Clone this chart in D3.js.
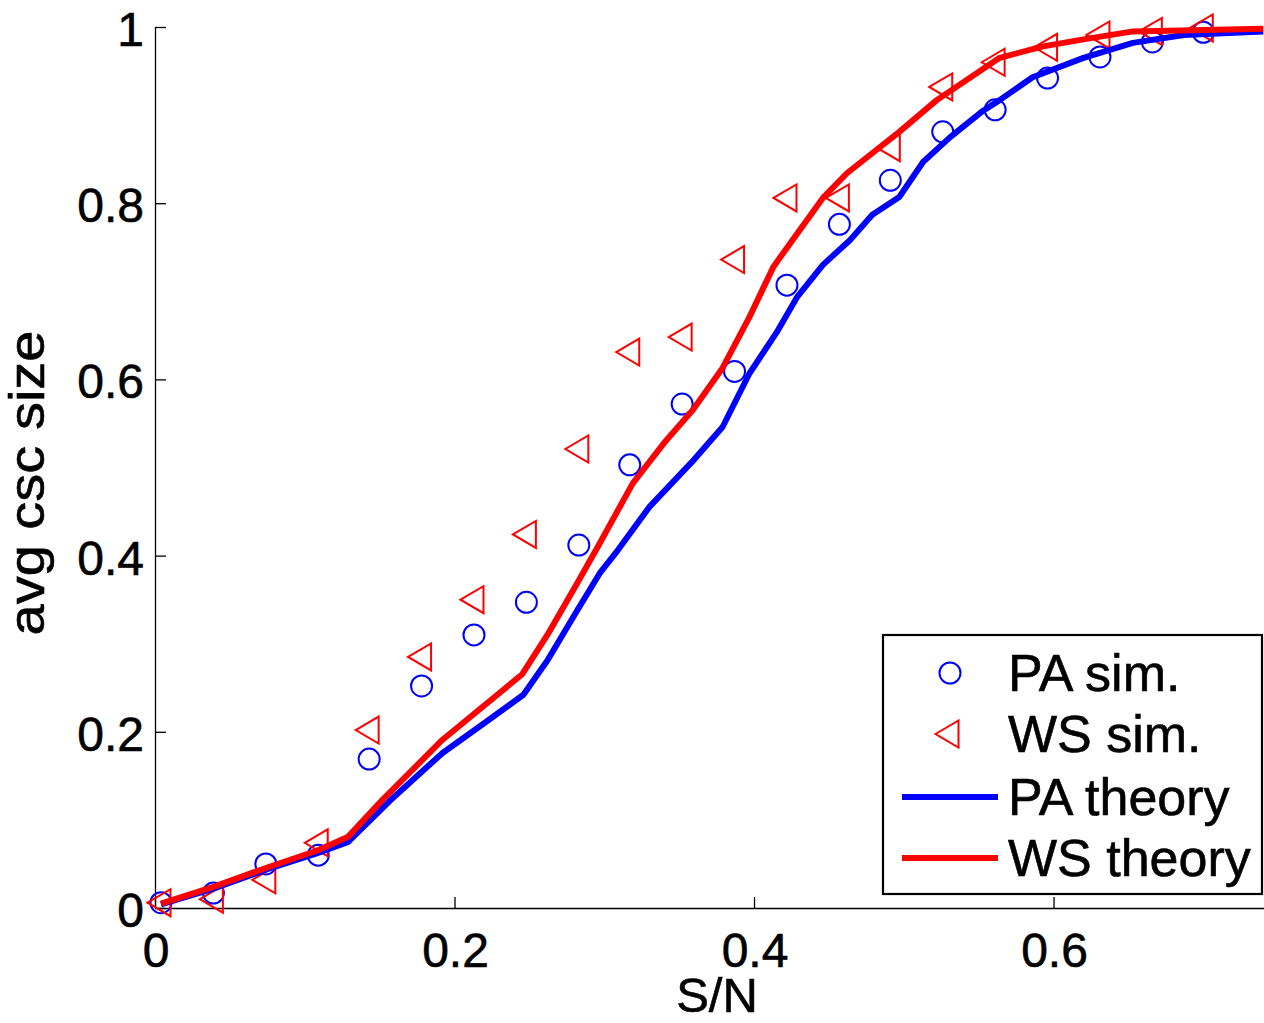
<!DOCTYPE html>
<html>
<head>
<meta charset="utf-8">
<script src="https://cdn.jsdelivr.net/npm/d3@7"></script>
<style>
  html, body { margin: 0; padding: 0; background: #fff; }
  svg { display: block; }
  text { font-family: "Liberation Sans", Arial, Helvetica, sans-serif; fill: #000; stroke: #000; stroke-width: 0.6px; }
</style>
</head>
<body>
<svg id="chart" width="1264" height="1023"></svg>
<script>
// ---- data ----
const simX  = [0.004, 0.039, 0.074, 0.109, 0.143, 0.178, 0.213, 0.248, 0.283, 0.317, 0.352,
               0.387, 0.422, 0.457, 0.491, 0.526, 0.561, 0.596, 0.631, 0.666, 0.700];
const paSim = [0.006, 0.017, 0.050, 0.060, 0.169, 0.252, 0.310, 0.347, 0.412, 0.503, 0.572,
               0.609, 0.707, 0.776, 0.826, 0.881, 0.906, 0.942, 0.966, 0.983, 0.994];
const wsSim = [0.006, 0.010, 0.032, 0.074, 0.202, 0.285, 0.350, 0.424, 0.521, 0.631, 0.648,
               0.736, 0.806, 0.806, 0.863, 0.932, 0.960, 0.977, 0.991, 0.995, 0.999];

const paTheoryX = [0.004, 0.039, 0.075, 0.108, 0.129, 0.157, 0.192, 0.220, 0.246, 0.262, 0.282,
                   0.297, 0.309, 0.330, 0.360, 0.379, 0.397, 0.415, 0.429, 0.446, 0.464, 0.479,
                   0.497, 0.513, 0.531, 0.553, 0.564, 0.586, 0.620, 0.653, 0.687, 0.740];
const paTheoryY = [0.004, 0.022, 0.044, 0.062, 0.075, 0.122, 0.176, 0.210, 0.242, 0.281, 0.338,
                   0.380, 0.406, 0.455, 0.509, 0.546, 0.607, 0.653, 0.694, 0.730, 0.758, 0.787,
                   0.807, 0.847, 0.875, 0.905, 0.917, 0.943, 0.965, 0.982, 0.991, 0.995];

const wsTheoryX = [0.004, 0.039, 0.075, 0.108, 0.129, 0.152, 0.192, 0.245, 0.262, 0.282, 0.297,
                   0.319, 0.340, 0.359, 0.379, 0.397, 0.413, 0.429, 0.446, 0.462, 0.497, 0.522,
                   0.564, 0.593, 0.620, 0.653, 0.740];
const wsTheoryY = [0.005, 0.024, 0.046, 0.065, 0.081, 0.123, 0.191, 0.265, 0.310, 0.369, 0.414,
                   0.482, 0.528, 0.565, 0.613, 0.671, 0.728, 0.766, 0.806, 0.834, 0.881, 0.917,
                   0.965, 0.978, 0.986, 0.995, 0.998];

const xTicks = [0, 0.2, 0.4, 0.6];
const yTicks = [0, 0.2, 0.4, 0.6, 0.8, 1];
const xTickLabels = ["0", "0.2", "0.4", "0.6"];
const yTickLabels = ["0", "0.2", "0.4", "0.6", "0.8", "1"];
const legendLabels = ["PA sim.", "WS sim.", "PA theory", "WS theory"];
const xLabel = "S/N";
const yLabel = "avg csc size";

// ---- layout ----
const svg = d3.select("#chart");
const plotL = 155, plotR = 1263.2, plotT = 27, plotB = 908;
const x = d3.scaleLinear().domain([0, 0.74]).range([plotL, plotR]);
const y = d3.scaleLinear().domain([0, 1]).range([plotB, plotT]);
const BLUE = "#0000ff", RED = "#ff0000";

// axes (ticks inward, MATLAB style)
const gx = svg.append("g").attr("transform", `translate(0,${plotB})`)
  .call(d3.axisTop(x).tickValues(xTicks).tickSize(11).tickFormat(""));
gx.select(".domain").attr("d", `M${plotL},0.5H1264`).attr("stroke", "#000").attr("stroke-width", 1.3);
gx.selectAll(".tick line").attr("stroke", "#000").attr("stroke-width", 1.3);

const gy = svg.append("g").attr("transform", `translate(${plotL},0)`)
  .call(d3.axisRight(y).tickValues(yTicks).tickSize(11).tickFormat(""));
gy.select(".domain").attr("d", `M0.5,${plotT}V${plotB}`).attr("stroke", "#000").attr("stroke-width", 1.3);
gy.selectAll(".tick line").attr("stroke", "#000").attr("stroke-width", 1.3);

// tick labels
svg.append("g").selectAll("text").data(xTicks).join("text")
  .attr("x", d => x(d) + 1).attr("y", 967)
  .attr("text-anchor", "middle").attr("font-size", 48)
  .text((d, i) => xTickLabels[i]);
svg.append("g").selectAll("text").data(yTicks).join("text")
  .attr("x", 144).attr("y", d => y(d) + 19)
  .attr("text-anchor", "end").attr("font-size", 48)
  .text((d, i) => yTickLabels[i]);

// axis labels
svg.append("text").attr("x", 717).attr("y", 1012).attr("text-anchor", "middle")
  .attr("font-size", 49).text(xLabel);
svg.append("text").attr("transform", `translate(44,${483}) rotate(-90)`)
  .attr("text-anchor", "middle").attr("font-size", 50)
  .attr("textLength", 305).attr("lengthAdjust", "spacingAndGlyphs").text(yLabel);

// markers
const triPath = (cx, cy) => {
  const w = 23, h = 27;
  return `M${cx - w/2},${cy}L${cx + w/2},${cy - h/2}L${cx + w/2},${cy + h/2}Z`;
};
svg.append("g").selectAll("circle").data(simX).join("circle")
  .attr("cx", d => x(d)).attr("cy", (d, i) => y(paSim[i])).attr("r", 10.5)
  .attr("fill", "none").attr("stroke", BLUE).attr("stroke-width", 2);
svg.append("g").selectAll("path").data(simX).join("path")
  .attr("d", (d, i) => triPath(x(d) - 2, y(wsSim[i])))
  .attr("fill", "none").attr("stroke", RED).attr("stroke-width", 2);

// theory lines
const line = d3.line().x(d => x(d[0])).y(d => y(d[1]));
svg.append("path").datum(paTheoryX.map((v, i) => [v, paTheoryY[i]]))
  .attr("d", line).attr("fill", "none").attr("stroke", BLUE)
  .attr("stroke-width", 6).attr("stroke-linejoin", "round");
svg.append("path").datum(wsTheoryX.map((v, i) => [v, wsTheoryY[i]]))
  .attr("d", line).attr("fill", "none").attr("stroke", RED)
  .attr("stroke-width", 6).attr("stroke-linejoin", "round");

// legend
const lg = svg.append("g");
lg.append("rect").attr("x", 883).attr("y", 635).attr("width", 379).attr("height", 259)
  .attr("fill", "#fff").attr("stroke", "#000").attr("stroke-width", 2.2);
const rowY = [673, 734, 797, 858];
lg.append("circle").attr("cx", 950).attr("cy", rowY[0]).attr("r", 10.5)
  .attr("fill", "none").attr("stroke", BLUE).attr("stroke-width", 2);
lg.append("path").attr("d", triPath(947, rowY[1]))
  .attr("fill", "none").attr("stroke", RED).attr("stroke-width", 2);
lg.append("line").attr("x1", 902).attr("x2", 998).attr("y1", rowY[2]).attr("y2", rowY[2])
  .attr("stroke", BLUE).attr("stroke-width", 6);
lg.append("line").attr("x1", 902).attr("x2", 998).attr("y1", rowY[3]).attr("y2", rowY[3])
  .attr("stroke", RED).attr("stroke-width", 6);
lg.selectAll("text.lbl").data(legendLabels).join("text").attr("class", "lbl")
  .attr("x", 1008).attr("y", (d, i) => rowY[i] + 18)
  .attr("font-size", 52).text(d => d);
</script>
</body>
</html>
